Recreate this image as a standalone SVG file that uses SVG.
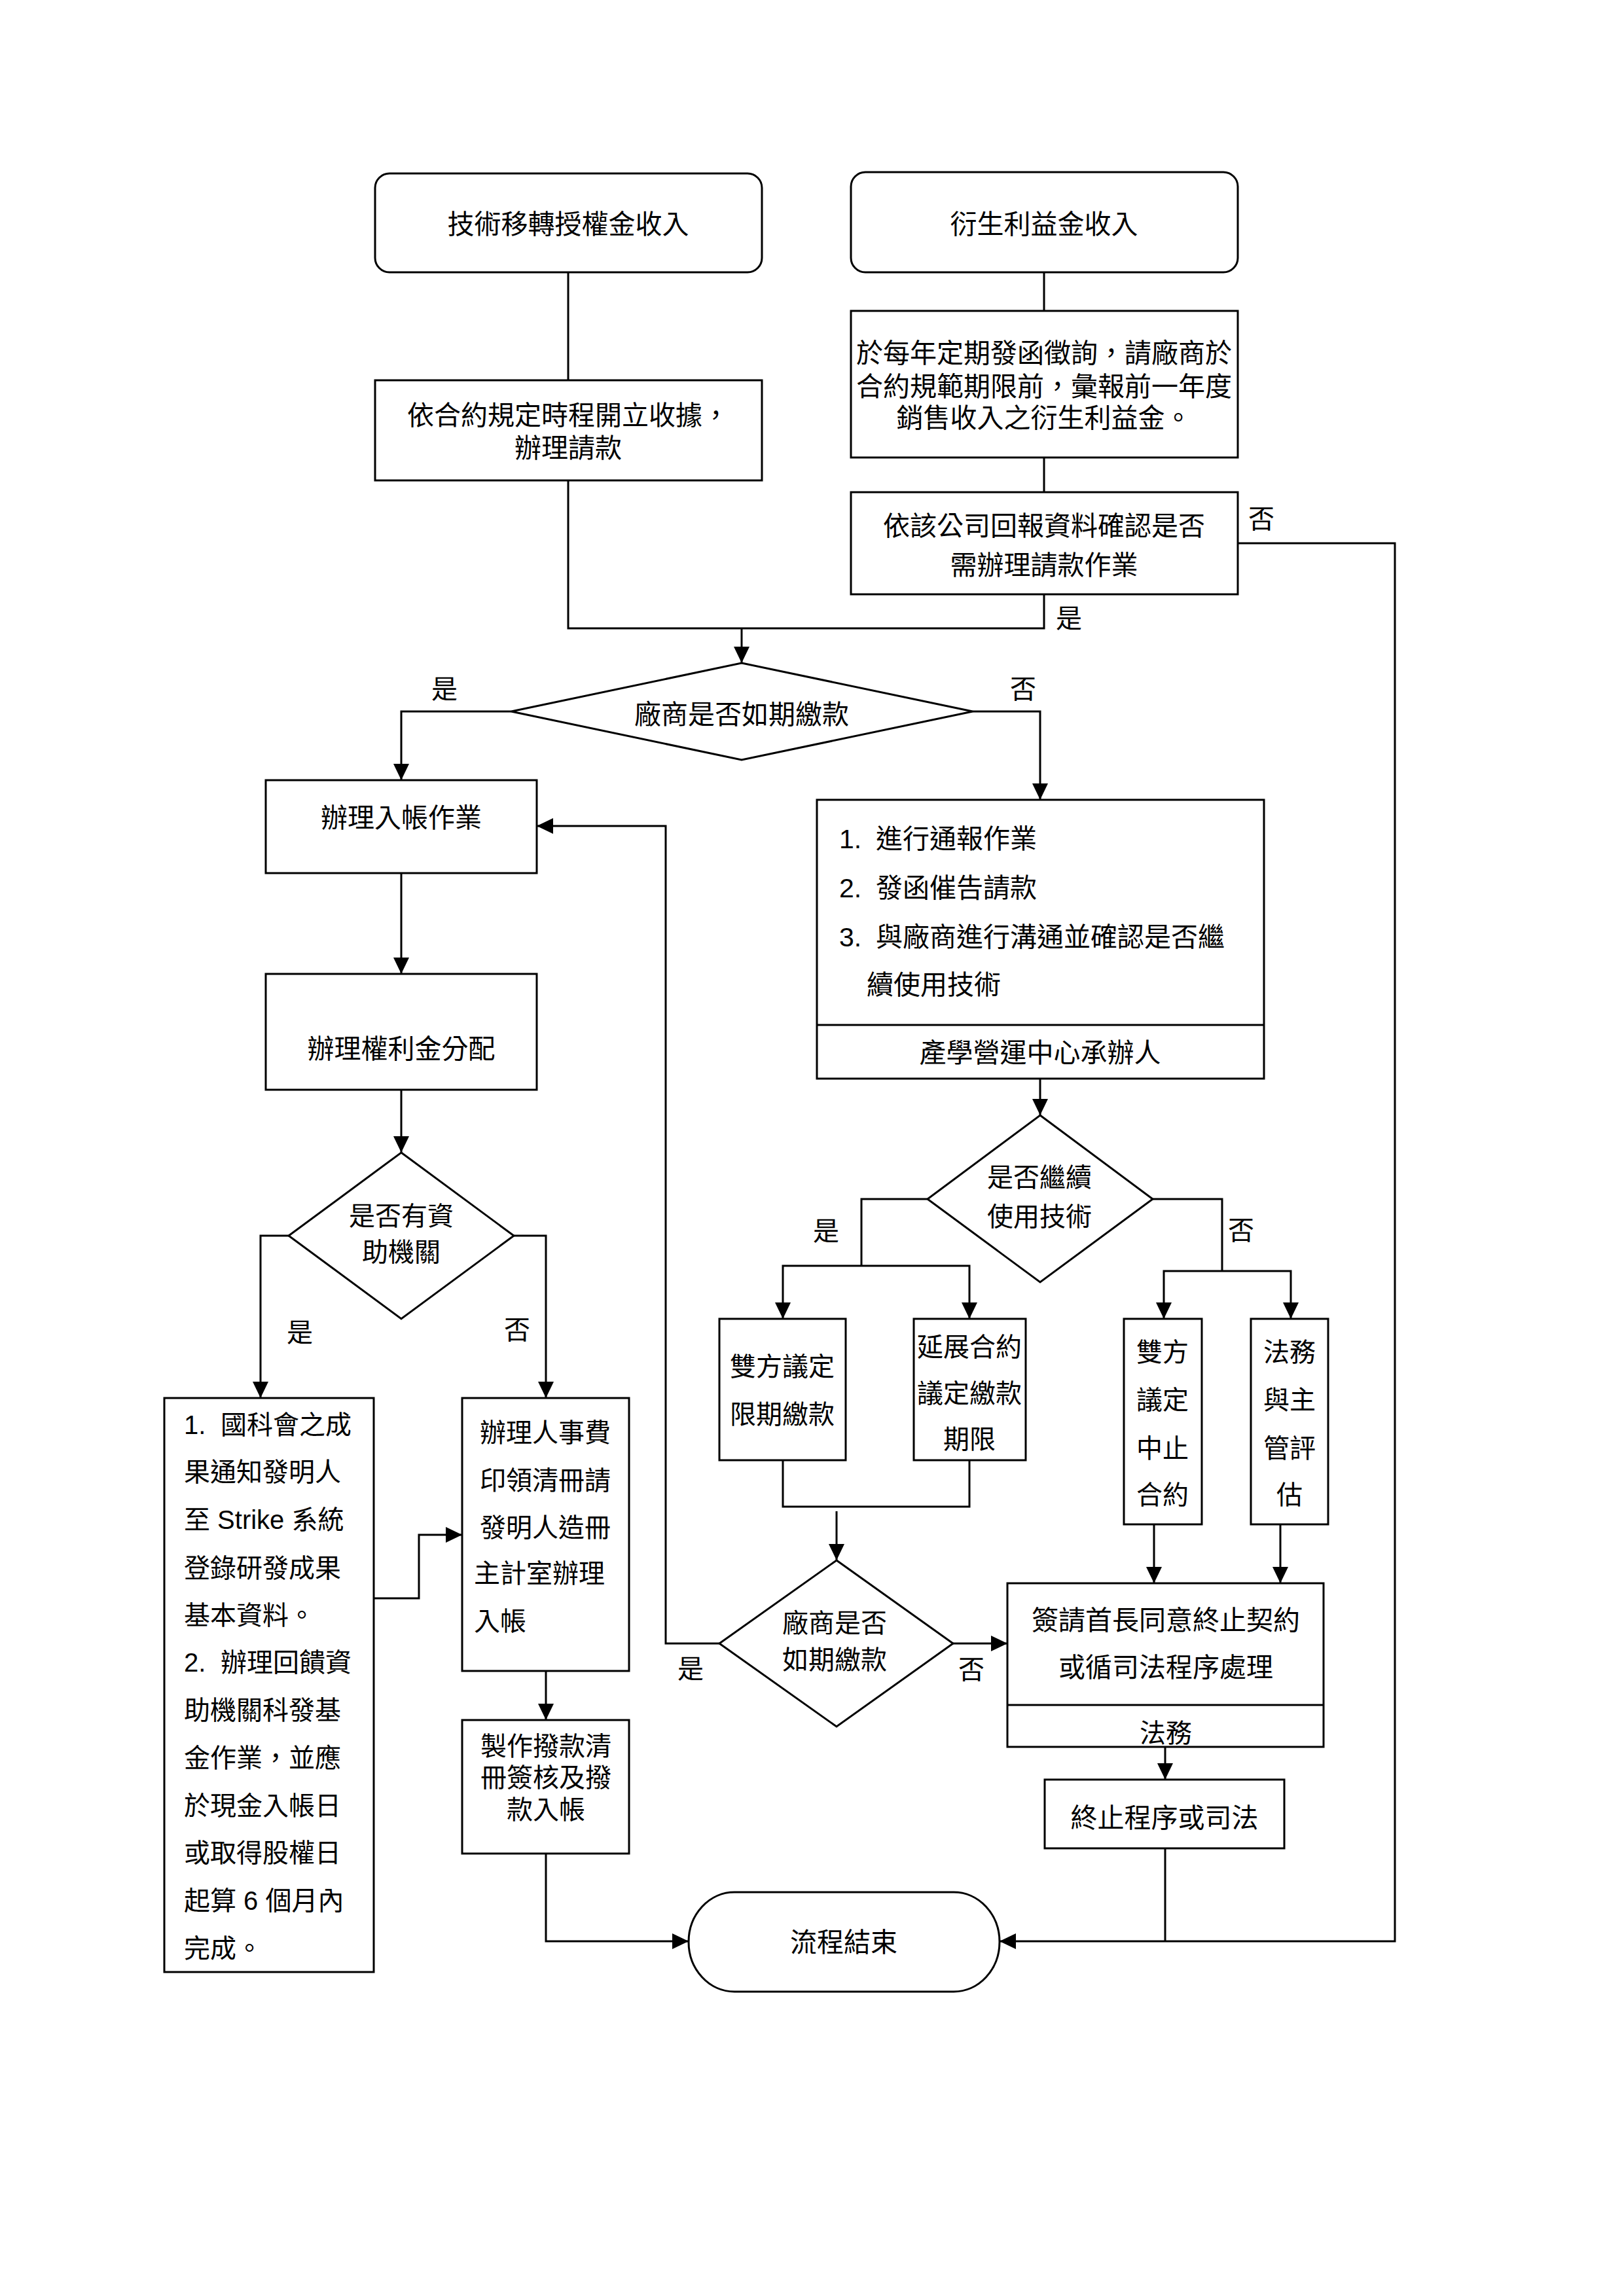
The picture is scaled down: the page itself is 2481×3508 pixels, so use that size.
<svg xmlns="http://www.w3.org/2000/svg" width="2481" height="3508" viewBox="0 0 2481 3508">
<defs>
<marker id="arr" markerUnits="userSpaceOnUse" markerWidth="25" markerHeight="24" refX="25" refY="12" orient="auto">
<path d="M0,0 L25,12 L0,24 Z" fill="#000"/>
</marker>
<style>
.box{fill:#fff;stroke:#000;stroke-width:3}
.ln{fill:none;stroke:#000;stroke-width:3}
.ar{fill:none;stroke:#000;stroke-width:3;marker-end:url(#arr)}
text{font-family:"Liberation Sans","Noto Sans CJK TC",sans-serif;font-size:40px;fill:#000}
.c{text-anchor:middle}
.big{font-size:41px}
</style>
</defs>
<rect width="2481" height="3508" fill="#fff"/>

<g id="connectors">
<path class="ln" d="M868,416 V581"/>
<path class="ln" d="M1595,416 V475"/>
<path class="ln" d="M1595,699 V752"/>
<path class="ln" d="M868,734 V960 H1595 V908"/>
<path class="ar" d="M1133,960 V1013"/>
<path class="ar" d="M1891,830 H2131 V2966 H1527"/>
<path class="ln" d="M1780,2824 V2966"/>
<path class="ar" d="M781,1087 H613 V1192"/>
<path class="ar" d="M1486,1087 H1589 V1222"/>
<path class="ar" d="M613,1334 V1488"/>
<path class="ar" d="M613,1665 V1761"/>
<path class="ar" d="M441,1888 H398 V2136"/>
<path class="ar" d="M785,1888 H834 V2136"/>
<path class="ar" d="M571,2442 H640 V2345 H706"/>
<path class="ar" d="M834,2553 V2628"/>
<path class="ar" d="M834,2832 V2966 H1052"/>
<path class="ar" d="M1589,1648 V1704"/>
<path class="ln" d="M1417,1832 H1316 V1934"/>
<path class="ar" d="M1316,1934 H1196 V2015"/>
<path class="ar" d="M1316,1934 H1481 V2015"/>
<path class="ln" d="M1761,1832 H1867 V1942"/>
<path class="ar" d="M1867,1942 H1778 V2015"/>
<path class="ar" d="M1867,1942 H1972 V2015"/>
<path class="ln" d="M1196,2231 V2302 H1481 V2231"/>
<path class="ar" d="M1278,2309 V2384"/>
<path class="ar" d="M1099,2511 H1017 V1262 H820"/>
<path class="ar" d="M1456,2511 H1539"/>
<path class="ar" d="M1763,2329 V2419"/>
<path class="ar" d="M1956,2329 V2419"/>
<path class="ar" d="M1780,2669 V2719"/>
</g>

<g id="labels">
<text class="c" x="1633" y="959">是</text>
<text class="c" x="1927" y="807">否</text>
<text class="c" x="679" y="1067">是</text>
<text class="c" x="1563" y="1067">否</text>
<text class="c" x="458" y="2050">是</text>
<text class="c" x="790" y="2046">否</text>
<text class="c" x="1262" y="1895">是</text>
<text class="c" x="1896" y="1894">否</text>
<text class="c" x="1055" y="2564">是</text>
<text class="c" x="1484" y="2565">否</text>
</g>

<g id="n_tech">
<rect class="box" x="573" y="265" width="591" height="151" rx="22"/>
<text class="c big" x="868" y="357">技術移轉授權金收入</text>
</g>
<g id="n_deriv">
<rect class="box" x="1300" y="263" width="591" height="153" rx="22"/>
<text class="c big" x="1595" y="357">衍生利益金收入</text>
</g>
<g id="n_receipt">
<rect class="box" x="573" y="581" width="591" height="153"/>
<text class="c big" x="868" y="649">依合約規定時程開立收據，</text>
<text class="c big" x="868" y="699">辦理請款</text>
</g>
<g id="n_inquiry">
<rect class="box" x="1300" y="475" width="591" height="224"/>
<text class="c big" x="1595" y="554">於每年定期發函徵詢，請廠商於</text>
<text class="c big" x="1595" y="605">合約規範期限前，彙報前一年度</text>
<text class="c big" x="1595" y="653">銷售收入之衍生利益金。</text>
</g>
<g id="n_confirm">
<rect class="box" x="1300" y="752" width="591" height="156"/>
<text class="c big" x="1595" y="818">依該公司回報資料確認是否</text>
<text class="c big" x="1595" y="878">需辦理請款作業</text>
</g>
<g id="d_pay1">
<polygon class="box" points="1133,1013 1486,1087 1133,1161 781,1087"/>
<text class="c big" x="1133" y="1106">廠商是否如期繳款</text>
</g>
<g id="n_account">
<rect class="box" x="406" y="1192" width="414" height="142"/>
<text class="c big" x="613" y="1264">辦理入帳作業</text>
</g>
<g id="n_royalty">
<rect class="box" x="406" y="1488" width="414" height="177"/>
<text class="c big" x="613" y="1617">辦理權利金分配</text>
</g>
<g id="n_notify">
<rect class="box" x="1248" y="1222" width="683" height="426"/>
<path class="ln" d="M1248,1566 H1931"/>
<text class="big" x="1282" y="1296">1. <tspan x="1338">進行通報作業</tspan></text>
<text class="big" x="1282" y="1371">2. <tspan x="1338">發函催告請款</tspan></text>
<text class="big" x="1282" y="1446">3. <tspan x="1338">與廠商進行溝通並確認是否繼</tspan></text>
<text class="big" x="1324" y="1519">續使用技術</text>
<text class="c big" x="1589" y="1623">產學營運中心承辦人</text>
</g>
<g id="d_continue">
<polygon class="box" points="1589,1704 1761,1832 1589,1959 1417,1832"/>
<text class="c" x="1588" y="1813">是否繼續</text>
<text class="c" x="1588" y="1873">使用技術</text>
</g>
<g id="n_limit">
<rect class="box" x="1099" y="2015" width="193" height="216"/>
<text class="c" x="1195" y="2102">雙方議定</text>
<text class="c" x="1195" y="2175">限期繳款</text>
</g>
<g id="n_extend">
<rect class="box" x="1396" y="2015" width="171" height="216"/>
<text class="c" x="1481" y="2072">延展合約</text>
<text class="c" x="1481" y="2143">議定繳款</text>
<text class="c" x="1481" y="2213">期限</text>
</g>
<g id="n_terminate">
<rect class="box" x="1717" y="2015" width="119" height="314"/>
<text class="c" x="1776" y="2080">雙方</text>
<text class="c" x="1776" y="2153">議定</text>
<text class="c" x="1776" y="2227">中止</text>
<text class="c" x="1776" y="2298">合約</text>
</g>
<g id="n_legal_eval">
<rect class="box" x="1911" y="2015" width="118" height="314"/>
<text class="c" x="1970" y="2080">法務</text>
<text class="c" x="1970" y="2153">與主</text>
<text class="c" x="1970" y="2227">管評</text>
<text class="c" x="1970" y="2298">估</text>
</g>
<g id="d_pay2">
<polygon class="box" points="1278,2384 1456,2511 1278,2638 1099,2511"/>
<text class="c" x="1275" y="2494">廠商是否</text>
<text class="c" x="1275" y="2550">如期繳款</text>
</g>
<g id="n_sign">
<rect class="box" x="1539" y="2419" width="483" height="250"/>
<path class="ln" d="M1539,2605 H2022"/>
<text class="c big" x="1781" y="2490">簽請首長同意終止契約</text>
<text class="c big" x="1781" y="2562">或循司法程序處理</text>
<text class="c" x="1781" y="2662">法務</text>
</g>
<g id="n_end_proc">
<rect class="box" x="1596" y="2719" width="366" height="105"/>
<text class="c big" x="1779" y="2792">終止程序或司法</text>
</g>
<g id="n_end">
<rect class="box" x="1052" y="2891" width="475" height="152" rx="70" ry="76"/>
<text class="c big" x="1289" y="2982">流程結束</text>
</g>
<g id="d_fund">
<polygon class="box" points="613,1761 785,1888 613,2015 441,1888"/>
<text class="c" x="613" y="1872">是否有資</text>
<text class="c" x="613" y="1927">助機關</text>
</g>
<g id="n_nstc">
<rect class="box" x="251" y="2136" width="320" height="877"/>
<text x="281" y="2191">1. <tspan x="337">國科會之成</tspan></text>
<text x="281" y="2263">果通知發明人</text>
<text x="281" y="2336">至 Strike 系統</text>
<text x="281" y="2410">登錄研發成果</text>
<text x="281" y="2482">基本資料。</text>
<text x="281" y="2554">2. <tspan x="337">辦理回饋資</tspan></text>
<text x="281" y="2627">助機關科發基</text>
<text x="281" y="2700">金作業，並應</text>
<text x="281" y="2773">於現金入帳日</text>
<text x="281" y="2845">或取得股權日</text>
<text x="281" y="2918">起算 6 個月內</text>
<text x="281" y="2991">完成。</text>
</g>
<g id="n_personnel">
<rect class="box" x="706" y="2136" width="255" height="417"/>
<text x="733" y="2203">辦理人事費</text>
<text x="733" y="2276">印領清冊請</text>
<text x="733" y="2348">發明人造冊</text>
<text x="724" y="2418">主計室辦理</text>
<text x="724" y="2491">入帳</text>
</g>
<g id="n_disburse">
<rect class="box" x="706" y="2628" width="255" height="204"/>
<text class="c" x="834" y="2682">製作撥款清</text>
<text class="c" x="834" y="2730">冊簽核及撥</text>
<text class="c" x="834" y="2779">款入帳</text>
</g>
</svg>
